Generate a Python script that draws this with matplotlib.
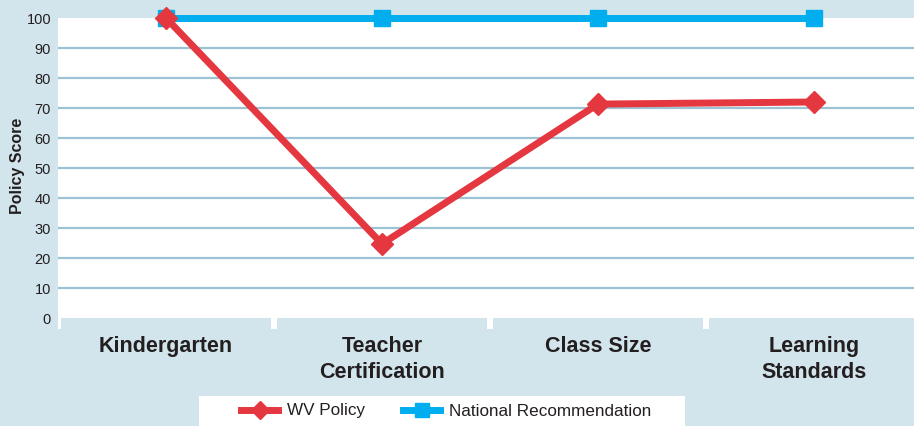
import numpy as np
import matplotlib.pyplot as plt
from matplotlib.patches import Rectangle

categories = ["Kindergarten", "Teacher\nCertification", "Class Size", "Learning\nStandards"]
wv_policy = [100, 24.7, 71.3, 72.0]
national = [100, 100, 100, 100]
yticks = [0, 10, 20, 30, 40, 50, 60, 70, 80, 90, 100]

bg = "#d3e5ec"
grid_col = "#9bc3d3"
red = "#e5373f"
blue = "#00aeef"

plt.rcParams['font.family'] = ['Liberation Sans', 'DejaVu Sans']

fig = plt.figure(figsize=(9.14, 4.26), dpi=100)
fig.patch.set_facecolor(bg)

W, H = 914, 426
ax = fig.add_axes([58 / W, 1 - 329 / H, (922 - 58) / W, (329 - 18) / H])
ax.set_facecolor("white")
ymin = -11 / 3
ax.set_xlim(-0.5, 3.5)
ax.set_ylim(ymin, 100)

for s in ax.spines.values():
    s.set_visible(False)

# gridlines
for v in yticks[1:-1]:
    ax.axhline(v, color=grid_col, lw=1.6, zorder=1)

# blue category boxes under the zero line
g = 0.014
for i in range(len(categories)):
    ax.add_patch(Rectangle((i - 0.5 + g, ymin - 1), 1 - 2 * g, -ymin + 1,
                           facecolor=bg, edgecolor="none", zorder=2))

x = np.arange(len(categories))
ax.plot(x, national, color=blue, lw=5, marker="s", markersize=12,
        label="National Recommendation", zorder=3, clip_on=False)
ax.plot(x, wv_policy, color=red, lw=5, marker="D", markersize=11,
        label="WV Policy", zorder=4, clip_on=False)

ax.set_yticks(yticks)
ax.set_yticklabels([str(v) for v in yticks], fontsize=10.5, color="#231f20")
ax.set_xticks(x)
ax.set_xticklabels(categories, fontsize=15.5, fontweight="bold", color="#231f20",
                   linespacing=1.3)
ax.tick_params(axis="y", length=0, pad=5)
ax.tick_params(axis="x", length=0, pad=5)

fig.text(18 / W, 1 - 166 / H, "Policy Score", rotation=90, ha="center", va="center",
         fontsize=11.5, fontweight="bold", color="#231f20")

# white legend strip at the bottom
fig.patches.append(Rectangle((199 / W, 0), (685 - 199) / W, (426 - 396) / H,
                             transform=fig.transFigure, facecolor="white",
                             edgecolor="none", zorder=0))

handles, labels = ax.get_legend_handles_labels()
leg = fig.legend(handles[::-1], labels[::-1], ncol=2, loc="center",
                 bbox_to_anchor=(446 / W, 1 - 411 / H), frameon=False,
                 fontsize=12.3, handlelength=2.2, handletextpad=0.5,
                 columnspacing=2.2, borderpad=0, borderaxespad=0,
                 markerscale=0.8, labelcolor="#231f20")

fig.savefig("out.png", dpi=100, facecolor=bg)
